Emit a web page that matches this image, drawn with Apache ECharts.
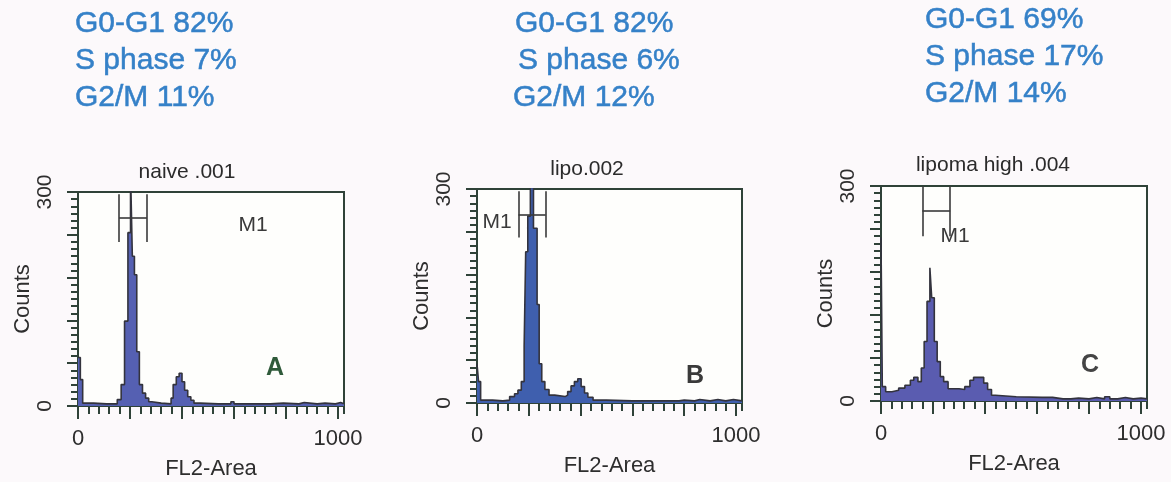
<!DOCTYPE html>
<html>
<head>
<meta charset="utf-8">
<title>Cell cycle histograms</title>
<script src="https://cdn.jsdelivr.net/npm/echarts@6/dist/echarts.min.js"></script>
<style>
  html, body { margin: 0; padding: 0; background: #fcf9fb; }
  #main { width: 1171px; height: 482px; }
</style>
</head>
<body>
<div id="main"></div>
<script>
// histogram bins: [first channel of the bin, counts]
const histA = [
  [0, 68], [9, 37], [18, 4], [60, 3], [110, 3], [151, 9], [166, 30], [179, 119],
  [192, 243], [202, 330], [209, 210], [217, 184], [226, 76], [236, 30], [248, 18],
  [260, 11], [272, 6], [284, 4], [320, 3], [358, 11], [366, 30], [378, 41], [389, 46],
  [400, 34], [410, 22], [422, 13], [434, 8], [446, 4], [470, 3], [540, 3], [588, 6],
  [600, 3], [680, 3], [740, 4], [790, 3], [850, 5], [870, 3], [920, 4], [950, 3],
  [990, 5], [1010, 3], [1023, 3]
];
const histB = [
  [0, 55], [6, 30], [14, 4], [60, 3], [100, 4], [126, 9], [145, 13], [158, 18],
  [171, 30], [182, 80], [188, 212], [196, 262], [206, 330], [218, 245], [232, 138],
  [240, 55], [250, 30], [262, 19], [278, 11], [300, 9], [340, 11], [350, 16], [363, 24],
  [376, 30], [389, 34], [402, 23], [415, 14], [428, 8], [448, 4], [500, 3], [600, 3],
  [700, 3], [780, 4], [800, 3], [840, 5], [860, 3], [900, 5], [930, 3], [960, 5],
  [990, 3], [1023, 3]
];
const histC = [
  [0, 228], [5, 20], [18, 13], [42, 15], [68, 18], [92, 22], [113, 29], [126, 33],
  [142, 27], [155, 46], [166, 83], [177, 139], [188, 186], [195, 144], [205, 83],
  [216, 55], [228, 34], [241, 27], [258, 17], [300, 16], [322, 20], [342, 29], [356, 33],
  [380, 33], [395, 25], [410, 16], [425, 8], [440, 6], [520, 5], [620, 5], [660, 3],
  [700, 3], [730, 4], [760, 3], [800, 5], [830, 3], [860, 6], [880, 3], [910, 5],
  [940, 3], [970, 4], [1000, 3], [1023, 3]
];

// M1 gate: [low channel, high channel, bar count, bottom count, top count]
const gateA = [158, 265, 264, 230, 297];
const gateB = [160, 265, 264, 232, 297];
const gateC = [159, 266, 265, 230, 300];

const sampleNames = ['naive .001', 'lipo.002', 'lipoma high .004'];
const panelLetters = ['A', 'B', 'C'];
const phaseA = ['G0-G1 82%', 'S phase 7%', 'G2/M 11%'];
const phaseB = ['G0-G1 82%', 'S phase 6%', 'G2/M 12%'];
const phaseC = ['G0-G1 69%', 'S phase 17%', 'G2/M 14%'];

const xMajorTicks = [0, 200, 400, 600, 800, 1000];
const xTickLabels = [0, 1000];
const yTickLabels = [0, 300];

const FONT = '"Liberation Sans", Arial, sans-serif';
const frame = '#2f4238';
const ink = '#2e2e2e';

const panels = [
  { hist: histA, gate: gateA, fill: '#5560b2', grid: { left: 78, top: 192, width: 266, height: 214 },
    phase: phaseA, phaseX: [75, 75, 75], phaseY: 2, title: [187, 172], m1: [253, 225],
    letter: [275, 368], letterColor: '#2f5a3a' },
  { hist: histB, gate: gateB, fill: '#3f5fae', grid: { left: 477, top: 189, width: 265, height: 214 },
    phase: phaseB, phaseX: [515, 518, 513], phaseY: 2, title: [587, 169], m1: [497, 222],
    letter: [695, 376], letterColor: '#3a3a3a' },
  { hist: histC, gate: gateC, fill: '#5a5cb0', grid: { left: 881, top: 186, width: 266, height: 215 },
    phase: phaseC, phaseX: [925, 925, 925], phaseY: -2, title: [993, 165], m1: [955, 236],
    letter: [1090, 365], letterColor: '#444444' }
];

const grid = [], xAxis = [], yAxis = [], series = [], graphic = [];

panels.forEach((p, i) => {
  grid.push(Object.assign({
    show: true, borderColor: frame, borderWidth: 2, backgroundColor: '#fefefc'
  }, p.grid));

  // major x ticks every 200, labels only at the ends
  xAxis.push({
    type: 'value', gridIndex: i, min: 0, max: 1023, position: 'bottom',
    axisLine: { show: true, onZero: false, lineStyle: { color: frame, width: 2 } },
    axisTick: { show: true, inside: false, length: 13, customValues: xMajorTicks, lineStyle: { color: frame, width: 2 } },
    axisLabel: { customValues: xTickLabels, margin: 22, color: ink, fontSize: 22, fontFamily: FONT,
      formatter: v => String(v) },
    splitLine: { show: false },
    name: 'FL2-Area', nameLocation: 'middle', nameGap: 52,
    nameTextStyle: { color: ink, fontSize: 22, fontFamily: FONT }
  });
  // minor x ticks
  xAxis.push({
    type: 'value', gridIndex: i, min: 0, max: 1023, interval: 40, position: 'bottom',
    axisLine: { show: false, onZero: false },
    axisTick: { show: true, inside: false, length: 8, lineStyle: { color: frame, width: 2 } },
    axisLabel: { show: false },
    splitLine: { show: false }
  });

  yAxis.push({
    type: 'value', gridIndex: i, min: 0, max: 300, interval: 60, position: 'left',
    axisLine: { show: true, onZero: false, lineStyle: { color: frame, width: 2 } },
    axisTick: { show: true, inside: false, length: 11, lineStyle: { color: frame, width: 2 } },
    axisLabel: {
      rotate: 90, margin: 22, color: ink, fontSize: 21, fontFamily: FONT,
      formatter: v => (yTickLabels.indexOf(v) >= 0 ? String(v) : '')
    },
    splitLine: { show: false },
    name: 'Counts', nameLocation: 'middle', nameGap: 42, nameRotate: 90,
    nameTextStyle: { color: ink, fontSize: 22, fontFamily: FONT }
  });
  yAxis.push({
    type: 'value', gridIndex: i, min: 0, max: 300, interval: 10, position: 'left',
    axisLine: { show: false, onZero: false },
    axisTick: { show: true, inside: false, length: 7, lineStyle: { color: frame, width: 2 } },
    axisLabel: { show: false },
    splitLine: { show: false }
  });

  const g = p.gate;
  series.push({
    type: 'line', xAxisIndex: 2 * i, yAxisIndex: 2 * i,
    data: p.hist, step: 'end', symbol: 'none', clip: true,
    lineStyle: { color: '#33333d', width: 1.6 },
    areaStyle: { color: p.fill, opacity: 1 },
    markLine: {
      silent: true, symbol: 'none', animation: false,
      label: { show: false },
      lineStyle: { color: '#3a3a3a', width: 1.6, type: 'solid' },
      data: [
        [{ coord: [g[0], g[3]] }, { coord: [g[0], g[4]] }],
        [{ coord: [g[1], g[3]] }, { coord: [g[1], g[4]] }],
        [{ coord: [g[0], g[2]] }, { coord: [g[1], g[2]] }]
      ]
    }
  });

  p.phase.forEach((t, k) => {
    graphic.push({
      type: 'text', x: p.phaseX[k], y: 22 + p.phaseY + k * 37,
      style: { text: t, font: '30px ' + FONT, fill: '#3581c8', stroke: '#3581c8', lineWidth: 0.5,
        align: 'left', textAlign: 'left', verticalAlign: 'middle', textVerticalAlign: 'middle' }
    });
  });
  graphic.push({
    type: 'text', x: p.title[0], y: p.title[1],
    style: { text: sampleNames[i], font: '21px ' + FONT, fill: '#2b2b2b',
      align: 'center', textAlign: 'center', verticalAlign: 'middle', textVerticalAlign: 'middle' }
  });
  graphic.push({
    type: 'text', x: p.m1[0], y: p.m1[1],
    style: { text: 'M1', font: '21px ' + FONT, fill: '#3a3a3a',
      align: 'center', textAlign: 'center', verticalAlign: 'middle', textVerticalAlign: 'middle' }
  });
  graphic.push({
    type: 'text', x: p.letter[0], y: p.letter[1],
    style: { text: panelLetters[i], font: 'bold 25px ' + FONT, fill: p.letterColor,
      align: 'center', textAlign: 'center', verticalAlign: 'middle', textVerticalAlign: 'middle' }
  });
});

const chart = echarts.init(document.getElementById('main'));
chart.setOption({
  backgroundColor: '#fcf9fb',
  animation: false,
  grid: grid,
  xAxis: xAxis,
  yAxis: yAxis,
  series: series,
  graphic: graphic
});
</script>
</body>
</html>
